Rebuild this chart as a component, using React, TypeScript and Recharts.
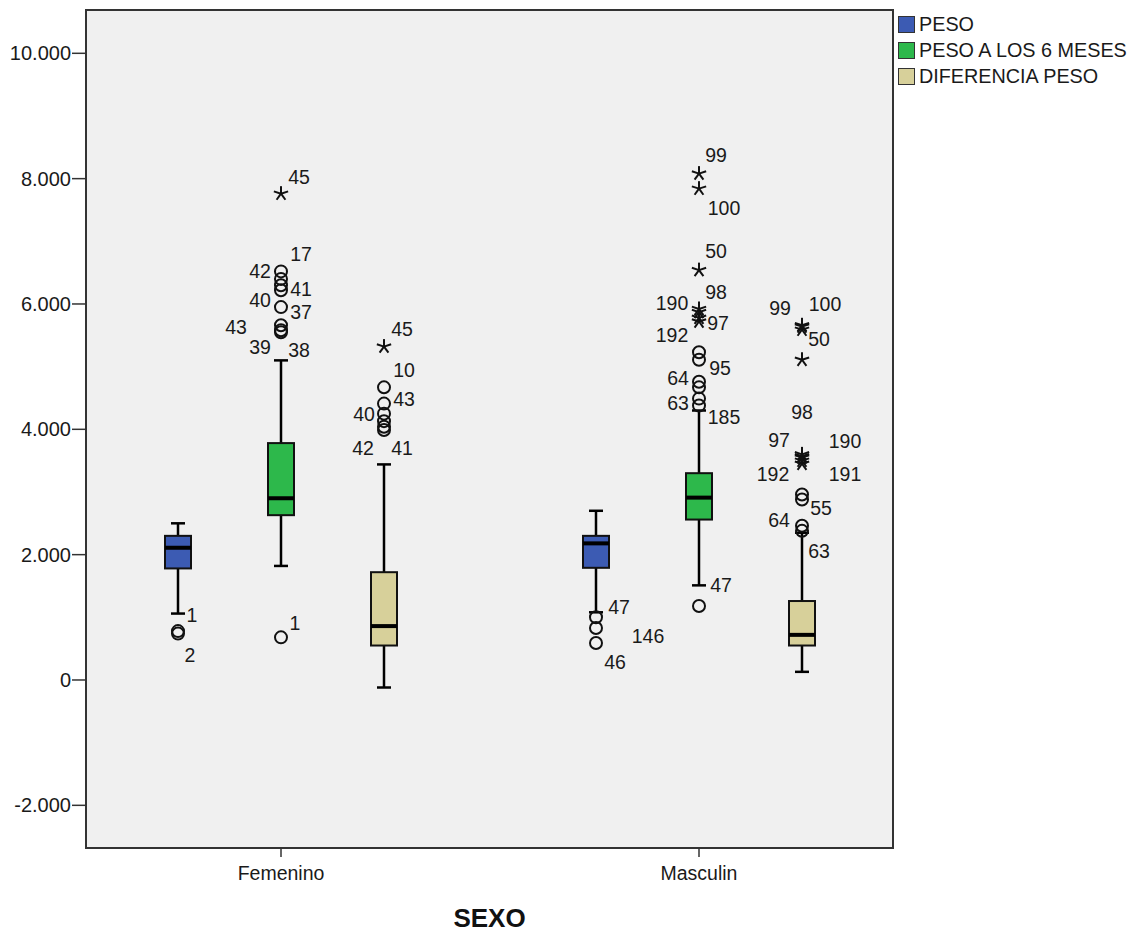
import React from 'react';
import { ComposedChart, Bar, Scatter, XAxis, YAxis, CartesianGrid, Legend, ReferenceArea } from 'recharts';

const FONT = '"Liberation Sans", Arial, sans-serif';

const categories = ['Femenino', 'Masculin'];
const seriesNames = ['PESO', 'PESO A LOS 6 MESES', 'DIFERENCIA PESO'];
const seriesKeys = ['peso', 'peso6', 'dif'];
const seriesColors = ['#3c5bb3', '#2db84b', '#d7d09a'];
const yTicks = [-2000, 0, 2000, 4000, 6000, 8000, 10000];

// box statistics per category: lower whisker, Q1, median, Q3, upper whisker
const pesoBox = [
  { lo: 1060, q1: 1780, med: 2110, q3: 2300, hi: 2500 },
  { lo: 1080, q1: 1790, med: 2180, q3: 2300, hi: 2700 },
];
const peso6Box = [
  { lo: 1820, q1: 2630, med: 2900, q3: 3780, hi: 5100 },
  { lo: 1510, q1: 2560, med: 2910, q3: 3300, hi: 4300 },
];
const difBox = [
  { lo: -120, q1: 550, med: 860, q3: 1720, hi: 3440 },
  { lo: 130, q1: 550, med: 720, q3: 1260, hi: 2350 },
];

// outliers per category: value, case id, kind ('o' = outlier, '*' = extreme)
const pesoOutliers = [
  [
    { v: 780, id: '1', k: 'o' },
    { v: 740, id: '2', k: 'o' },
  ],
  [
    { v: 1000, id: '47', k: 'o' },
    { v: 830, id: '146', k: 'o' },
    { v: 590, id: '46', k: 'o' },
  ],
];
const peso6Outliers = [
  [
    { v: 7760, id: '45', k: '*' },
    { v: 6520, id: '42', k: 'o' },
    { v: 6400, id: '17', k: 'o' },
    { v: 6300, id: '41', k: 'o' },
    { v: 6220, id: '40', k: 'o' },
    { v: 5950, id: '37', k: 'o' },
    { v: 5660, id: '43', k: 'o' },
    { v: 5580, id: '39', k: 'o' },
    { v: 5550, id: '38', k: 'o' },
    { v: 680, id: '1', k: 'o' },
  ],
  [
    { v: 8080, id: '99', k: '*' },
    { v: 7840, id: '100', k: '*' },
    { v: 6540, id: '50', k: '*' },
    { v: 5920, id: '190', k: '*' },
    { v: 5870, id: '98', k: '*' },
    { v: 5780, id: '97', k: '*' },
    { v: 5720, id: '192', k: '*' },
    { v: 5230, id: '', k: 'o' },
    { v: 5110, id: '95', k: 'o' },
    { v: 4760, id: '64', k: 'o' },
    { v: 4670, id: '', k: 'o' },
    { v: 4490, id: '63', k: 'o' },
    { v: 4380, id: '185', k: 'o' },
    { v: 1180, id: '47', k: 'o' },
  ],
];
const difOutliers = [
  [
    { v: 5320, id: '45', k: '*' },
    { v: 4670, id: '10', k: 'o' },
    { v: 4410, id: '43', k: 'o' },
    { v: 4250, id: '40', k: 'o' },
    { v: 4130, id: '', k: 'o' },
    { v: 4040, id: '42', k: 'o' },
    { v: 3990, id: '41', k: 'o' },
  ],
  [
    { v: 5660, id: '99', k: '*' },
    { v: 5640, id: '100', k: '*' },
    { v: 5590, id: '50', k: '*' },
    { v: 5110, id: '', k: '*' },
    { v: 3600, id: '98', k: '*' },
    { v: 3570, id: '97', k: '*' },
    { v: 3550, id: '190', k: '*' },
    { v: 3500, id: '192', k: '*' },
    { v: 3450, id: '191', k: '*' },
    { v: 2960, id: '', k: 'o' },
    { v: 2880, id: '55', k: 'o' },
    { v: 2460, id: '64', k: 'o' },
    { v: 2380, id: '63', k: 'o' },
  ],
];

// label placement (pixel offsets of each case label from its marker)
const labelOffsets: Record<string, [number, number]> = {
  'peso|0|1': [14, -16], 'peso|0|2': [12, 21],
  'peso|1|47': [23, -10], 'peso|1|146': [52, 8], 'peso|1|46': [19, 19],
  'peso6|0|45': [18, -17], 'peso6|0|42': [-21, 0], 'peso6|0|17': [20, -25], 'peso6|0|41': [20, 4],
  'peso6|0|40': [-21, 10], 'peso6|0|37': [20, 5], 'peso6|0|43': [-45, 2], 'peso6|0|39': [-21, 17],
  'peso6|0|38': [18, 18], 'peso6|0|1': [14, -14],
  'peso6|1|99': [17, -19], 'peso6|1|100': [25, 19], 'peso6|1|50': [17, -19], 'peso6|1|190': [-27, -6],
  'peso6|1|98': [17, -20], 'peso6|1|97': [19, 5], 'peso6|1|192': [-27, 13], 'peso6|1|95': [21, 8],
  'peso6|1|64': [-21, -4], 'peso6|1|63': [-21, 4], 'peso6|1|185': [25, 12], 'peso6|1|47': [22, -21],
  'dif|0|45': [18, -18], 'dif|0|10': [20, -17], 'dif|0|43': [20, -5], 'dif|0|40': [-20, 0],
  'dif|0|42': [-21, 21], 'dif|0|41': [18, 18],
  'dif|1|99': [-22, -17], 'dif|1|100': [23, -23], 'dif|1|50': [17, 9], 'dif|1|98': [0, -42],
  'dif|1|97': [-23, -16], 'dif|1|190': [43, -17], 'dif|1|192': [-29, 13], 'dif|1|191': [43, 10],
  'dif|1|55': [19, 8], 'dif|1|64': [-23, -6], 'dif|1|63': [17, 20],
};

const BAR_SIZE = 26;
const BAR_GAP = 77;
const BAND_PX = 418;
const SHIFT = (BAR_SIZE + BAR_GAP) / BAND_PX;
const seriesShift = [-SHIFT, 0, SHIFT];
const Y_DOMAIN: [number, number] = [-2681, 10691];
const X_NUM_DOMAIN: [number, number] = [-0.4665, 1.4641];

const outliers = [pesoOutliers, peso6Outliers, difOutliers];

const rows = categories.map((name, ci) => ({
  name,
  peso: pesoBox[ci],
  peso6: peso6Box[ci],
  dif: difBox[ci],
}));

const scatterData = seriesKeys.map((sk, si) =>
  categories.flatMap((_, ci) =>
    outliers[si][ci].map((o) => ({
      x: ci + seriesShift[si],
      v: o.v,
      id: o.id,
      k: o.k,
      key: `${sk}|${ci}|${o.id}`,
    }))
  )
);

const fmtY = (v: number) => (v === 0 ? '0' : `${v < 0 ? '-' : ''}${Math.abs(v) / 1000}.000`);

const BoxShape = (props: any) => {
  const { x, y, width, height, payload, statKey, fill } = props;
  const s = payload ? payload[statKey] : null;
  if (!s || height == null || y == null) return null;
  const py = (v: number) => y + (height * (s.hi - v)) / (s.hi - s.lo);
  const cx = x + width / 2;
  const cap = 7;
  return (
    <g>
      <line x1={cx} x2={cx} y1={py(s.hi)} y2={py(s.q3)} stroke="#000" strokeWidth={2.5} />
      <line x1={cx} x2={cx} y1={py(s.q1)} y2={py(s.lo)} stroke="#000" strokeWidth={2.5} />
      <line x1={cx - cap} x2={cx + cap} y1={py(s.hi)} y2={py(s.hi)} stroke="#000" strokeWidth={2.5} />
      <line x1={cx - cap} x2={cx + cap} y1={py(s.lo)} y2={py(s.lo)} stroke="#000" strokeWidth={2.5} />
      <rect x={x} y={py(s.q3)} width={width} height={py(s.q1) - py(s.q3)} fill={fill} stroke="#111" strokeWidth={2} />
      <line x1={x} x2={x + width} y1={py(s.med)} y2={py(s.med)} stroke="#000" strokeWidth={4} />
    </g>
  );
};

const OutlierShape = (props: any) => {
  const { cx, cy, payload } = props;
  if (cx == null || cy == null || !payload) return null;
  const off = labelOffsets[payload.key];
  let mark;
  if (payload.k === '*') {
    const arms = [-90, -18, 54, 126, 198].map((a) => {
      const r = (a * Math.PI) / 180;
      return <line key={a} x1={cx} y1={cy} x2={cx + 7.5 * Math.cos(r)} y2={cy + 7.5 * Math.sin(r)} stroke="#111" strokeWidth={2} />;
    });
    mark = <g>{arms}</g>;
  } else {
    mark = <circle cx={cx} cy={cy} r={6} fill="none" stroke="#111" strokeWidth={2} />;
  }
  return (
    <g>
      {mark}
      {payload.id && off ? (
        <text x={cx + off[0]} y={cy + off[1]} textAnchor="middle" dominantBaseline="central" fontSize={19.5} fontFamily={FONT} fill="#1a1a1a">
          {payload.id}
        </text>
      ) : null}
    </g>
  );
};

const renderLegend = () => (
  <div style={{ fontFamily: FONT, fontSize: 19.8, color: '#1a1a1a' }}>
    {seriesNames.map((n, i) => (
      <div key={n} style={{ display: 'flex', alignItems: 'center', height: 26, whiteSpace: 'nowrap' }}>
        <span style={{ display: 'inline-block', width: 15, height: 15, background: seriesColors[i], border: '1.5px solid #333', marginRight: 4 }} />
        <span>{n}</span>
      </div>
    ))}
  </div>
);

const rangeOf = (sk: string) => (d: any) => (d && d[sk] ? [d[sk].lo, d[sk].hi] : null);

export default function App() {
  return (
    <div style={{ position: 'absolute', left: 0, top: 0, width: 1136, height: 934, background: '#fff' }}>
      <ComposedChart
        width={1136}
        height={934}
        data={rows}
        margin={{ top: 10, right: 243, bottom: 0, left: 0 }}
        barGap={BAR_GAP}
        style={{ fontFamily: FONT }}
      >
        <CartesianGrid fill="#f0f0f0" horizontal={false} vertical={false} />
        <XAxis
          dataKey="name"
          type="category"
          height={86}
          padding={{ left: -14, right: -15 }}
          tickSize={9}
          tickMargin={9}
          axisLine={{ stroke: '#333', strokeWidth: 2 }}
          tickLine={{ stroke: '#333', strokeWidth: 1.5 }}
          tick={{ fill: '#1a1a1a', fontSize: 19.5, fontFamily: FONT }}
          label={{ value: 'SEXO', position: 'insideBottom', offset: 7, fontSize: 26, fontWeight: 700, fill: '#111', fontFamily: FONT }}
        />
        <XAxis xAxisId="num" type="number" dataKey="x" domain={X_NUM_DOMAIN} allowDataOverflow hide />
        <YAxis
          domain={Y_DOMAIN}
          ticks={yTicks}
          allowDataOverflow
          width={86}
          tickSize={14}
          tickMargin={1}
          tickFormatter={fmtY}
          axisLine={{ stroke: '#333', strokeWidth: 2 }}
          tickLine={{ stroke: '#333', strokeWidth: 1.5 }}
          tick={{ fill: '#1a1a1a', fontSize: 20, fontFamily: FONT }}
        />
        <ReferenceArea
          xAxisId="num"
          x1={X_NUM_DOMAIN[0]}
          x2={X_NUM_DOMAIN[1]}
          y1={Y_DOMAIN[0]}
          y2={Y_DOMAIN[1]}
          fill="none"
          fillOpacity={0}
          stroke="#333"
          strokeWidth={2}
          ifOverflow="visible"
        />
        {seriesKeys.map((sk, si) => (
          <Bar
            key={sk}
            dataKey={rangeOf(sk)}
            name={seriesNames[si]}
            barSize={BAR_SIZE}
            fill={seriesColors[si]}
            isAnimationActive={false}
            shape={(p: any) => <BoxShape {...p} statKey={sk} fill={seriesColors[si]} />}
          />
        ))}
        {seriesKeys.map((sk, si) => (
          <Scatter
            key={`o-${sk}`}
            xAxisId="num"
            data={scatterData[si]}
            dataKey="v"
            isAnimationActive={false}
            shape={(p: any) => <OutlierShape {...p} />}
            legendType="none"
          />
        ))}
        <Legend
          layout="horizontal"
          verticalAlign="middle"
          align="center"
          content={renderLegend}
          wrapperStyle={{ left: 898, top: 11, width: 238 }}
        />
      </ComposedChart>
    </div>
  );
}
